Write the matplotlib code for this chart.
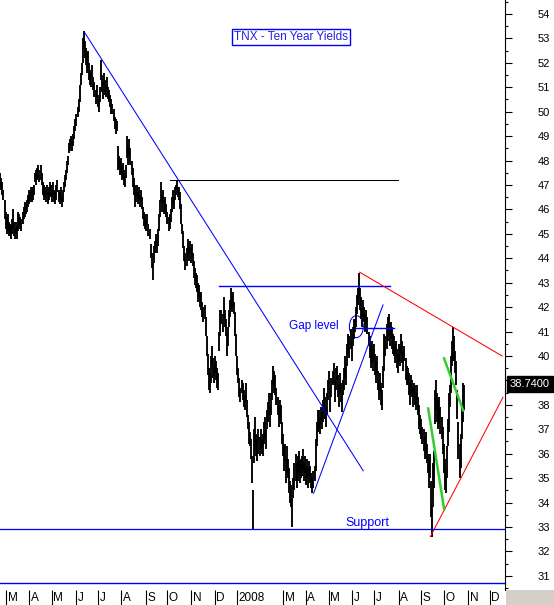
import matplotlib.pyplot as plt
from matplotlib.patches import Ellipse, Rectangle
import numpy as np
import pandas as pd

plt.rcParams['font.family'] = ['Liberation Sans', 'DejaVu Sans']

# daily bars, one per business day from 2007-02-21 (values = yield x 10)
start_date = '2007-02-21'
end_axis_date = '2008-12-22'

lows = [
    46.9, 46.8, 46.6, 46.4, 45.6, 45.2, 45.0, 45.1, 44.9, 45.0,
    44.8, 45.0, 45.2, 44.9, 44.8, 45.0, 44.8, 45.1, 45.3, 45.2,
    45.1, 45.4, 45.6, 45.7, 45.8, 45.9, 46.1, 46.2, 46.3, 46.4,
    46.3, 46.4, 46.6, 47.1, 47.0, 47.2, 47.3, 47.1, 47.2, 47.0,
    46.6, 46.4, 46.5, 46.3, 46.6, 46.2, 46.4, 46.6, 46.5, 46.3,
    46.6, 46.3, 46.2, 46.4, 46.7, 46.3, 46.2, 46.4, 46.1, 46.3,
    46.7, 46.9, 47.2, 47.5, 47.8, 48.3, 48.4, 48.6, 48.4, 48.6,
    48.9, 49.2, 49.4, 49.8, 50.0, 50.4, 51.1, 51.5, 52.0, 52.6,
    52.2, 51.9, 51.6, 51.8, 51.3, 51.1, 51.0, 51.4, 50.9, 50.6,
    50.3, 50.6, 50.2, 50.0, 50.4, 51.3, 50.8, 50.5, 51.0, 50.7,
    50.6, 50.9, 50.5, 50.4, 50.2, 49.9, 49.9, 49.6, 49.3, 49.1,
    49.2, 47.6, 47.7, 47.4, 47.5, 47.2, 47.3, 47.0, 46.9, 47.3,
    48.1, 47.8, 48.2, 47.8, 47.4, 46.9, 46.6, 46.1, 46.3, 46.5,
    46.2, 46.4, 46.1, 46.3, 46.0, 45.6, 45.3, 45.2, 45.1, 45.4,
    44.9, 44.8, 44.0, 43.6, 43.1, 43.8, 44.2, 44.4, 44.2, 44.5,
    45.1, 45.7, 46.3, 45.9, 46.2, 45.8, 45.9, 45.7, 45.4, 45.1,
    45.2, 45.5, 45.9, 46.2, 46.0, 46.4, 46.6, 46.7, 46.5, 46.4,
    46.0, 45.4, 45.0, 44.4, 43.9, 43.5, 43.7, 44.0, 43.9, 44.2,
    43.8, 44.0, 43.7, 43.2, 42.9, 42.8, 42.6, 42.2, 42.4, 42.0,
    41.9, 41.6, 41.4, 41.5, 40.8, 40.0, 39.2, 38.6, 38.5, 38.9,
    39.6, 39.1, 38.9, 39.3, 39.0, 38.7, 38.6, 40.2, 40.8, 41.3,
    41.0, 41.6, 41.2, 40.8, 40.0, 40.4, 41.2, 41.6, 41.9, 41.8,
    42.0, 41.7, 40.8, 40.0, 39.2, 38.9, 38.3, 38.1, 38.5, 38.2,
    37.9, 37.8, 38.1, 37.5, 37.0, 36.4, 36.3, 35.8, 34.8, 32.9,
    35.6, 36.2, 35.9, 35.7, 36.0, 35.9, 36.2, 36.0, 35.9, 36.4,
    36.6, 36.2, 37.0, 37.3, 37.6, 37.1, 37.6, 38.2, 38.8, 38.5,
    38.4, 38.0, 37.6, 37.1, 37.4, 37.2, 36.4, 35.9, 35.3, 35.7,
    34.8, 35.2, 35.0, 34.4, 34.0, 33.8, 33.0, 34.2, 34.5, 34.9,
    34.6, 34.9, 35.2, 34.8, 35.0, 35.1, 35.3, 34.9, 35.2, 34.7,
    35.0, 34.6, 35.1, 34.8, 34.6, 34.4, 34.6, 34.9, 35.3, 36.3,
    36.9, 37.0, 36.8, 37.2, 37.0, 37.3, 37.8, 37.4, 37.1, 37.6,
    38.2, 38.6, 37.7, 38.3, 38.8, 38.9, 38.1, 38.6, 39.0, 38.3,
    37.9, 38.5, 38.1, 37.7, 38.4, 38.6, 39.1, 38.8, 39.6, 40.1,
    39.9, 40.3, 39.8, 40.4, 40.7, 41.0, 41.2, 41.7, 42.1, 42.4,
    41.9, 41.5, 41.2, 41.6, 41.4, 41.0, 41.3, 40.9, 40.4, 39.9,
    39.5, 39.7, 39.4, 39.8, 39.2, 38.9, 39.3, 38.6, 38.2, 38.5,
    38.0, 37.8, 38.7, 39.4, 40.0, 40.3, 40.6, 40.8, 40.4, 40.7,
    40.3, 40.1, 40.0, 39.7, 40.0, 39.5, 39.3, 39.8, 39.6, 40.1,
    39.7, 39.4, 39.8, 39.0, 38.8, 38.8, 38.4, 38.0, 38.5, 38.3,
    37.9, 38.3, 38.0, 37.8, 38.2, 37.6, 37.0, 36.8, 36.6, 36.4,
    36.1, 35.8, 36.0, 35.6, 35.2, 34.6, 35.0, 33.4, 32.6, 33.8,
    34.6, 37.2, 37.8, 37.3, 37.0, 37.2, 36.8, 36.6, 36.0, 35.2,
    34.5, 34.4, 35.0, 36.3, 36.9, 37.9, 38.5, 39.6, 39.8, 39.8,
    39.3, 38.8, 37.4, 35.8, 35.0, 35.4, 36.6, 37.3, 37.8,
]
highs = [
    47.5, 47.3, 47.1, 46.8, 46.4, 45.9, 45.7, 45.8, 45.5, 45.4,
    45.3, 45.6, 46.0, 45.5, 45.2, 45.5, 45.3, 45.9, 45.8, 45.7,
    45.6, 45.9, 46.1, 46.3, 46.2, 46.4, 46.6, 46.8, 46.7, 46.9,
    46.8, 46.9, 47.0, 47.5, 47.6, 47.7, 47.8, 47.6, 47.8, 47.5,
    47.1, 47.0, 46.9, 46.8, 47.0, 46.7, 46.9, 47.1, 47.0, 46.8,
    47.1, 46.8, 46.7, 47.0, 47.2, 46.8, 46.7, 46.9, 46.6, 46.8,
    47.1, 47.4, 47.6, 48.0, 48.2, 48.7, 48.9, 49.0, 48.8, 49.1,
    49.4, 49.7, 49.9, 50.2, 50.5, 51.1, 51.6, 52.0, 53.0, 53.3,
    52.9, 52.6, 52.4, 52.5, 52.0, 51.7, 51.6, 51.9, 51.4, 51.2,
    50.9, 51.1, 50.7, 50.5, 51.0, 52.1, 51.5, 51.2, 51.6, 51.3,
    51.1, 51.4, 51.0, 50.9, 50.7, 50.5, 50.3, 50.1, 49.8, 49.7,
    49.6, 48.6, 48.2, 48.0, 48.1, 47.8, 47.9, 47.6, 47.4, 47.8,
    49.0, 48.6, 48.9, 48.5, 48.0, 47.7, 47.3, 47.0, 46.8, 47.0,
    46.7, 46.9, 46.6, 46.8, 46.5, 46.1, 45.9, 45.8, 45.6, 45.8,
    45.4, 45.2, 44.6, 44.2, 43.8, 44.5, 44.7, 45.0, 44.8, 45.2,
    45.8, 46.4, 47.1, 46.6, 46.8, 46.4, 46.5, 46.2, 45.9, 45.7,
    45.8, 46.0, 46.5, 46.8, 46.5, 46.9, 47.0, 47.2, 46.9, 46.9,
    46.7, 46.2, 45.4, 45.1, 44.5, 44.2, 44.4, 44.8, 44.5, 44.7,
    44.4, 44.6, 44.2, 43.9, 43.6, 43.4, 43.3, 43.0, 42.9, 42.6,
    42.6, 42.2, 42.0, 42.1, 41.6, 40.8, 40.1, 39.5, 39.3, 40.0,
    40.4, 39.9, 39.6, 40.0, 39.8, 39.5, 39.3, 41.0, 41.9, 41.9,
    41.7, 42.4, 41.9, 41.5, 40.9, 41.2, 41.9, 42.3, 42.8, 42.5,
    42.6, 42.2, 41.8, 40.9, 40.0, 39.5, 39.1, 38.7, 39.0, 38.9,
    38.6, 38.4, 38.9, 38.2, 37.6, 37.3, 36.9, 36.6, 35.9, 34.5,
    37.0, 37.5, 36.8, 36.6, 37.0, 36.7, 37.0, 36.6, 36.8, 37.3,
    37.5, 37.0, 37.8, 38.1, 38.5, 37.9, 38.5, 39.0, 39.6, 39.4,
    39.2, 38.7, 38.3, 37.9, 38.2, 38.0, 37.3, 36.8, 36.4, 36.4,
    35.8, 36.3, 35.8, 35.4, 34.9, 34.7, 34.2, 35.0, 35.6, 36.0,
    35.6, 35.9, 36.1, 35.7, 35.8, 35.9, 36.2, 35.6, 35.9, 35.5,
    35.8, 35.4, 35.7, 35.5, 35.2, 35.0, 35.3, 35.5, 36.6, 37.3,
    37.8, 37.8, 37.5, 37.9, 37.7, 38.2, 38.7, 38.3, 37.9, 38.5,
    39.0, 39.4, 38.6, 39.1, 39.4, 39.7, 39.0, 39.5, 39.6, 39.2,
    38.8, 39.3, 38.9, 38.6, 39.0, 39.5, 40.0, 39.7, 40.5, 40.9,
    40.8, 41.1, 40.6, 41.2, 41.5, 41.5, 42.0, 42.5, 42.8, 43.4,
    42.8, 42.4, 42.0, 42.3, 42.0, 41.7, 41.9, 41.6, 41.0, 40.8,
    40.4, 40.6, 40.3, 40.5, 40.1, 39.8, 40.0, 39.4, 39.0, 39.3,
    38.9, 38.6, 39.6, 40.9, 40.8, 41.3, 41.6, 41.7, 41.3, 41.4,
    41.2, 40.9, 40.8, 40.5, 40.6, 40.3, 40.1, 40.5, 40.4, 40.9,
    40.6, 40.2, 40.4, 39.9, 39.6, 39.5, 39.3, 38.9, 39.2, 39.0,
    38.7, 38.9, 38.8, 38.5, 38.8, 38.3, 38.0, 37.6, 37.4, 37.1,
    37.0, 36.7, 36.9, 36.4, 36.0, 35.8, 36.0, 34.9, 33.9, 35.6,
    36.1, 38.6, 39.0, 38.5, 38.2, 38.3, 37.9, 37.5, 37.1, 36.4,
    35.8, 35.3, 36.3, 37.4, 38.5, 38.8, 40.0, 40.6, 41.2, 40.8,
    40.2, 39.8, 38.6, 37.3, 36.4, 36.8, 37.9, 38.9, 38.8,
]
last_value = 38.74

# month separators shown in the label strip
month_starts = ['2007-03-01', '2007-04-02', '2007-05-01', '2007-06-01', '2007-07-02',
                '2007-08-01', '2007-09-03', '2007-10-01', '2007-11-01', '2007-12-03',
                '2008-01-01', '2008-03-03', '2008-04-01', '2008-05-01', '2008-06-02',
                '2008-07-01', '2008-08-01', '2008-09-01', '2008-10-01', '2008-11-03',
                '2008-12-01']
month_labels = ['M', 'A', 'M', 'J', 'J', 'A', 'S', 'O', 'N', 'D', '2008',
                'M', 'A', 'M', 'J', 'J', 'A', 'S', 'O', 'N', 'D']

# right axis; 39 sits under the last-value box
y_ticks = list(range(31, 55))
y_labels = ['' if v == 39 else str(v) for v in y_ticks]

# drawn trend lines: (bar from, value from, bar to, value to)
blue_lines = [(79.4, 53.26, 343.0, 35.30),
              (296.1, 34.38, 361.7, 42.09)]
blue_levels = [(207.0, 368.0, 42.85), (336.2, 372.4, 41.13)]
black_levels = [(160.7, 376.0, 47.20)]
red_lines = [(339.6, 43.43, 474.2, 40.00),
             (406.4, 32.60, 475.1, 38.31)]
green_lines = [(404.2, 37.90, 419.7, 33.67),
               (419.0, 39.95, 437.9, 37.72)]
support_level = 32.92
bottom_level = 30.72

days = pd.bdate_range(start_date, end_axis_date)
x = np.arange(len(lows))

W, H = 554, 605
fig = plt.figure(figsize=(W / 100, H / 100), dpi=100)
ax = fig.add_axes([0, 15 / H, 505 / W, 590 / H])

ax.vlines(x, lows, highs, color='black', lw=1.35)

blue = '#0000ff'
for x0, y0, x1, y1 in blue_lines:
    ax.plot([x0, x1], [y0, y1], color=blue, lw=0.75)
for x0, x1, y in blue_levels:
    ax.plot([x0, x1], [y, y], color=blue, lw=1.0)
for x0, x1, y in black_levels:
    ax.plot([x0, x1], [y, y], color='black', lw=0.75)
for x0, y0, x1, y1 in red_lines:
    ax.plot([x0, x1], [y0, y1], color='#ff0000', lw=0.75)
for x0, y0, x1, y1 in green_lines:
    ax.plot([x0, x1], [y0, y1], color='#33cc33', lw=1.8, solid_capstyle='butt')
ax.axhline(support_level, color=blue, lw=0.9)
ax.axhline(bottom_level, color=blue, lw=1.0)

ax.add_patch(Ellipse((336.5, 41.2), 13.2, 0.9, fill=False, edgecolor=blue, lw=0.75))
ax.text(273.3, 41.23, 'Gap level', color=blue, fontsize=8.5, va='center', ha='left')
ax.text(326.0, 33.16, 'Support', color=blue, fontsize=9, va='center', ha='left')
ax.text(0.576, 0.937, 'TNX - Ten Year Yields', transform=ax.transAxes,
        color='#2222dd', fontsize=8.5, ha='center', va='center',
        bbox=dict(boxstyle='square,pad=0.15', fc='white', ec=blue, lw=1.0))

ax.set_xlim(-0.3, 477.0)
ax.set_ylim(30.42, 54.57)
for side in ['top', 'left', 'bottom']:
    ax.spines[side].set_visible(False)
ax.spines['right'].set_linewidth(0.8)
ax.yaxis.tick_right()
ax.set_yticks(y_ticks)
ax.set_yticklabels(y_labels)
ax.set_yticks(np.arange(30.5, 54.6, 1.0), minor=True)
ax.tick_params(axis='y', which='major', length=5, width=0.8, pad=18.5, labelsize=8)
ax.tick_params(axis='y', which='minor', length=2.5, width=0.8)
ax.set_xticks([])

fig.text(530 / W, (H - 384) / H, '%.4f' % last_value, color='white', fontsize=8,
         ha='center', va='center', zorder=10,
         bbox=dict(boxstyle='square,pad=0.3', fc='black', ec='black'))

# month strip
mx = fig.add_axes([0, 0, 505 / W, 15 / H])
mx.set_xlim(ax.get_xlim())
mx.set_ylim(0, 1)
mx.axis('off')
for d, lab in zip(month_starts, month_labels):
    p = days.searchsorted(pd.Timestamp(d))
    mx.vlines(p - 0.5, 0, 1, color='black', lw=0.8)
    mx.text(p + 1.0, 0.45, lab, fontsize=8.5, ha='left', va='center')
fig.patches.append(Rectangle((506 / W, 0), 48 / W, 15 / H, transform=fig.transFigure,
                             fc='#d4d0c8', ec='none'))

fig.savefig('out.png', dpi=100)
